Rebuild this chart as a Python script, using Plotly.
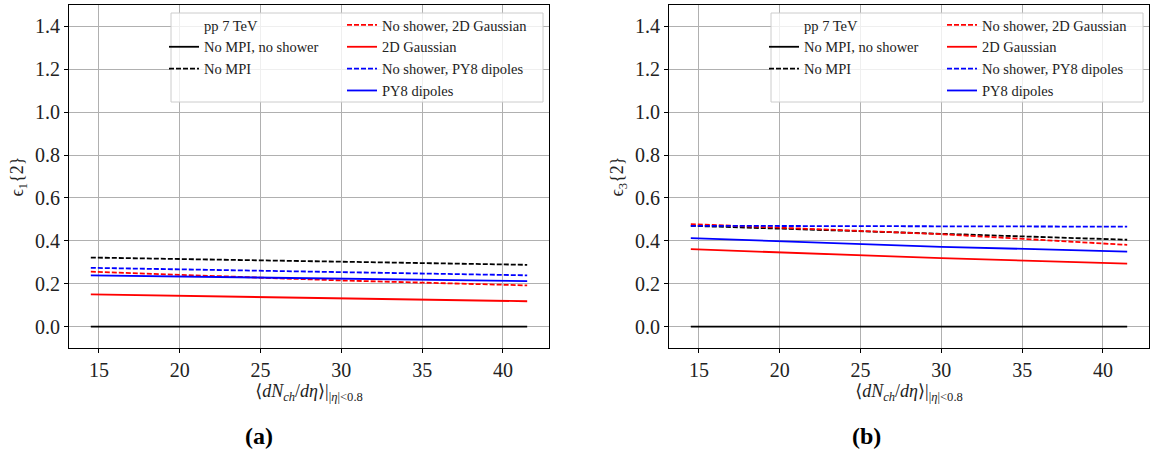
import plotly.graph_objects as go

# ---- data ----
x_mult = [14.5, 30.0, 41.5]

# panel (a): eps_1{2}
e1_no_mpi_no_shower = [0.0, 0.0, 0.0]
e1_no_mpi = [0.322, 0.302, 0.288]
e1_noshower_gauss = [0.256, 0.215, 0.192]
e1_gauss = [0.150, 0.130, 0.118]
e1_noshower_py8 = [0.274, 0.254, 0.239]
e1_py8 = [0.239, 0.223, 0.212]

# panel (b): eps_3{2}
e3_no_mpi_no_shower = [0.0, 0.0, 0.0]
e3_no_mpi = [0.470, 0.433, 0.405]
e3_noshower_gauss = [0.478, 0.431, 0.381]
e3_gauss = [0.361, 0.319, 0.294]
e3_noshower_py8 = [0.470, 0.469, 0.466]
e3_py8 = [0.4125, 0.372, 0.350]

names = ["No MPI, no shower", "No MPI", "No shower, 2D Gaussian", "2D Gaussian",
         "No shower, PY8 dipoles", "PY8 dipoles"]
header = "pp 7 TeV"
x_ticks = [15, 20, 25, 30, 35, 40]
y_ticks = [0.0, 0.2, 0.4, 0.6, 0.8, 1.0, 1.2, 1.4]

W, H = 1153, 452
FONT = "Liberation Serif, DejaVu Serif, serif"
DASH = "5px,2px"

styles = [("black", "solid"), ("black", DASH), ("red", DASH), ("red", "solid"),
          ("blue", DASH), ("blue", "solid")]

fig = go.Figure()

panels = [
    ("x", "y", [e1_no_mpi_no_shower, e1_no_mpi, e1_noshower_gauss, e1_gauss, e1_noshower_py8, e1_py8],
     ("legend", "legend2")),
    ("x2", "y2", [e3_no_mpi_no_shower, e3_no_mpi, e3_noshower_gauss, e3_gauss, e3_noshower_py8, e3_py8],
     ("legend3", "legend4")),
]

for xa, ya, series, (lg1, lg2) in panels:
    fig.add_trace(go.Scatter(x=[None], y=[None], mode="lines", name=header,
                             line=dict(color="rgba(0,0,0,0)", width=2),
                             xaxis=xa, yaxis=ya, legend=lg1, hoverinfo="skip"))
    for i, (vals, nm, (col, dash)) in enumerate(zip(series, names, styles)):
        fig.add_trace(go.Scatter(x=x_mult, y=vals, mode="lines", name=nm,
                                 line=dict(color=col, dash=dash, width=1.8),
                                 xaxis=xa, yaxis=ya,
                                 legend=lg1 if i < 2 else lg2))

def px_x(p):
    return p / W

def px_y(p):
    return 1 - p / H

axis_common = dict(
    showline=True, linecolor="black", linewidth=1, mirror=True,
    ticks="outside", ticklen=4, tickcolor="black", tickwidth=1,
    showgrid=True, gridcolor="#b0b0b0", gridwidth=0.8,
    zeroline=False, automargin=False,
    tickfont=dict(family=FONT, size=20, color="#222"),
)

xdom1 = [px_x(69), px_x(549)]
xdom2 = [px_x(669), px_x(1149)]
ydom = [px_y(348), px_y(5)]

xtitle = "⟨<i>dN</i><sub><i>ch</i></sub>/<i>dη</i>⟩|<sub>|<i>η</i>|&lt;0.8</sub>"

fig.update_layout(
    width=W, height=H,
    margin=dict(l=0, r=0, t=0, b=0, autoexpand=False),
    paper_bgcolor="white", plot_bgcolor="white",
    font=dict(family=FONT, color="#222"),
    xaxis=dict(domain=xdom1, range=[13.15, 42.85], tickvals=x_ticks, anchor="y",
               title=dict(text=xtitle, font=dict(size=18), standoff=0), **axis_common),
    yaxis=dict(domain=ydom, range=[-0.1, 1.5], tickvals=y_ticks, tickformat=".1f", anchor="x",
               title=dict(text="ϵ<sub>1</sub>{2}", font=dict(size=18), standoff=6), **axis_common),
    xaxis2=dict(domain=xdom2, range=[13.15, 42.85], tickvals=x_ticks, anchor="y2",
                title=dict(text=xtitle, font=dict(size=18), standoff=0), **axis_common),
    yaxis2=dict(domain=ydom, range=[-0.1, 1.5], tickvals=y_ticks, tickformat=".1f", anchor="x2",
                title=dict(text="ϵ<sub>3</sub>{2}", font=dict(size=18), standoff=6), **axis_common),
    showlegend=True,
)

leg_common = dict(bgcolor="rgba(0,0,0,0)", borderwidth=0, xanchor="left", yanchor="top",
                  font=dict(family=FONT, size=14.5, color="#222"), itemwidth=30,
                  tracegroupgap=0, traceorder="normal", orientation="v")

for key, xpx in [("legend", 164), ("legend2", 342), ("legend3", 764), ("legend4", 942)]:
    fig.update_layout(**{key: dict(x=px_x(xpx), y=px_y(9), **leg_common)})

for off in (0, 600):
    fig.add_shape(type="rect", xref="paper", yref="paper",
                  x0=px_x(171 + off), x1=px_x(543 + off), y0=px_y(102), y1=px_y(13),
                  line=dict(color="#cccccc", width=1), fillcolor="rgba(255,255,255,0.8)",
                  layer="above")

for lbl, cx in [("(a)", 243), ("(b)", 883)]:
    fig.add_annotation(text=f"<b>{lbl}</b>", xref="paper", yref="paper",
                       x=px_x(cx), y=px_y(436), yanchor="middle", showarrow=False,
                       font=dict(family=FONT, size=24, color="black"))

fig.write_html("out.html", post_script="document.body.style.margin='0';",
               config={"displayModeBar": False})
